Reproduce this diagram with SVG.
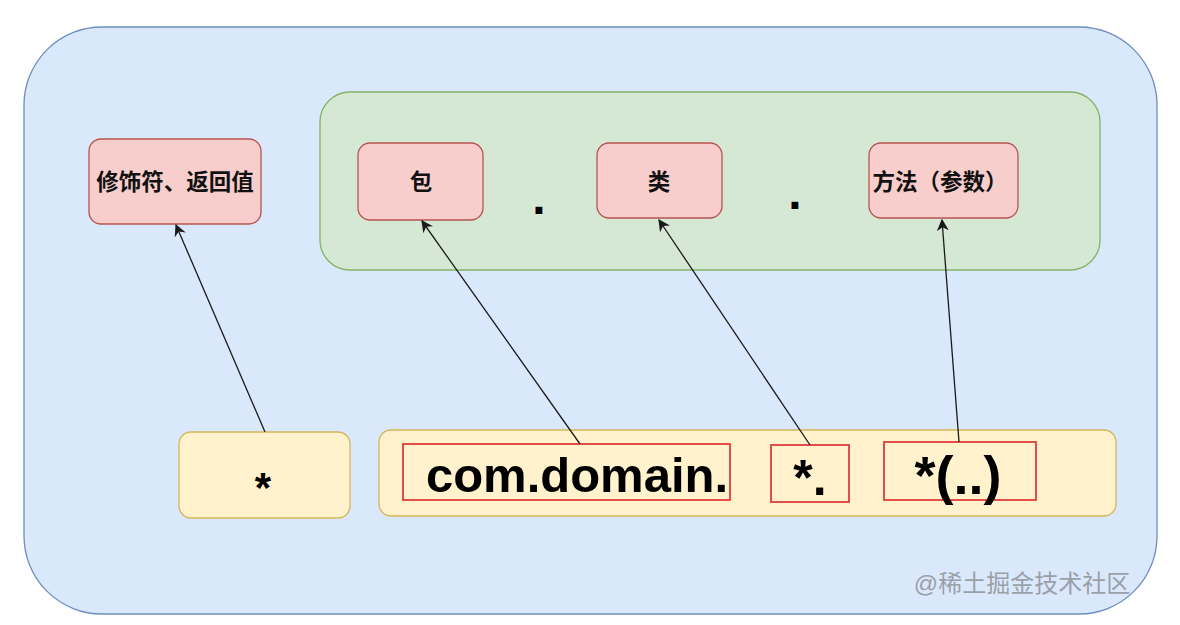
<svg xmlns="http://www.w3.org/2000/svg" width="1180" height="625" viewBox="0 0 1180 625">
<defs>
<style>
.cn{font-family:"Liberation Sans","Noto Sans CJK SC",sans-serif;font-weight:bold;font-size:22.5px;fill:#111;text-anchor:middle}
.big{font-family:"Liberation Sans",Arial,sans-serif;font-weight:bold;font-size:48px;fill:#000;text-anchor:middle}
.red{fill:#f8cecc;stroke:#b85450;stroke-width:1.3}
.yel{fill:#fff2cc;stroke:#d6b656;stroke-width:1.3}
.box{fill:none;stroke:#e03c3c;stroke-width:1.8}
.conn line{stroke:#1a1a1a;stroke-width:1.3;marker-end:url(#ah)}
</style>
<marker id="ah" viewBox="0 0 10 10" refX="9" refY="5" markerWidth="12" markerHeight="12" markerUnits="userSpaceOnUse" orient="auto">
<path d="M0,0 L10,5 L0,10 L3,5 Z" fill="#1a1a1a"/>
</marker>
</defs>
<rect width="1180" height="625" fill="#ffffff"/>
<g id="outer"><rect x="24" y="27" width="1133" height="587" rx="78" ry="78" fill="#dae8fc" stroke="#6c8ebf" stroke-width="1.3"/></g>
<g id="group-green"><rect x="320" y="92" width="780" height="178" rx="30" ry="30" fill="#d5e8d4" stroke="#82b366" stroke-width="1.3"/></g>
<g id="modifier"><rect class="red" x="89" y="139" width="172" height="85" rx="12"/><text class="cn" x="175" y="190">修饰符、返回值</text></g>
<g id="package"><rect class="red" x="358" y="143" width="125" height="77" rx="12"/><text class="cn" x="421" y="190">包</text></g>
<text class="big" x="539" y="214">.</text>
<g id="class"><rect class="red" x="597" y="143" width="125" height="75" rx="12"/><text class="cn" x="659" y="190">类</text></g>
<text class="big" x="795" y="209">.</text>
<g id="method"><rect class="red" x="869" y="143" width="149" height="75" rx="12"/><text class="cn" x="940" y="190">方法（参数）</text></g>
<g id="star"><rect class="yel" x="179" y="432" width="171" height="86" rx="12"/><text class="big" x="263" y="502" style="font-size:42px">*</text></g>
<g id="expr"><rect class="yel" x="379" y="430" width="737" height="86" rx="12"/>
<rect class="box" x="403" y="444" width="327" height="56"/><text class="big" x="577" y="492" style="font-size:49px">com.domain.</text>
<rect class="box" x="771" y="445" width="78" height="57"/><text class="big" x="810" y="495" style="font-size:50px">*.</text>
<rect class="box" x="884" y="442" width="152" height="58"/><text class="big" x="958" y="494" style="font-size:54px">*(..)</text>
</g>
<g class="conn" id="connectors">
<line x1="265" y1="432" x2="176" y2="225"/>
<line x1="580" y1="444" x2="422" y2="221"/>
<line x1="810" y1="445" x2="659" y2="220"/>
<line x1="959" y1="442" x2="942" y2="220"/>
</g>
<text x="1022" y="592" style="font-family:'Liberation Sans','Noto Sans CJK SC',sans-serif;font-size:24px;fill:#9aa0a8;text-anchor:middle">@稀土掘金技术社区</text>
</svg>
